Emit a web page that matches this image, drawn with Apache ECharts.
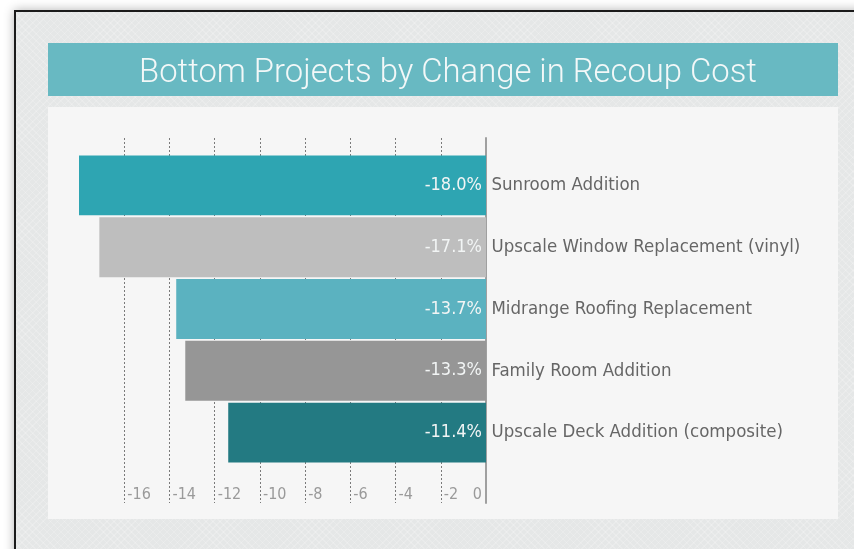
<!DOCTYPE html>
<html>
<head>
<meta charset="utf-8">
<script src="https://cdn.jsdelivr.net/npm/echarts@6/dist/echarts.min.js"></script>
<style>
  html, body { margin: 0; padding: 0; width: 854px; height: 549px; overflow: hidden; background: #ffffff; }
  #frame {
    position: absolute; left: 14px; top: 10px; width: 900px; height: 600px;
    border: 2px solid #1b1b1b; box-sizing: border-box;
    box-shadow: 0 0 10px rgba(0,0,0,0.3);
    background-color: #e5e7e7;
    background-image:
      repeating-linear-gradient(45deg, rgba(255,255,255,0.18) 0 1px, transparent 1px 5px),
      repeating-linear-gradient(-45deg, rgba(255,255,255,0.18) 0 1px, transparent 1px 5px);
  }
  #banner { position: absolute; left: 48px; top: 43px; width: 790px; height: 53px; background: #68b9c2; }
  #panel { position: absolute; left: 48px; top: 107px; width: 790px; height: 412px; background: #f6f6f6; }
  #chart { position: absolute; left: 0; top: 0; width: 854px; height: 549px; }
</style>
</head>
<body>
<div id="frame"></div>
<div id="banner"></div>
<div id="panel"></div>
<div id="chart"></div>
<script>
const titleText = 'Bottom Projects by Change in Recoup Cost';
const categories = [
  'Sunroom Addition',
  'Upscale Window Replacement (vinyl)',
  'Midrange Roofing Replacement',
  'Family Room Addition',
  'Upscale Deck Addition (composite)'
];
const values = [-18.0, -17.1, -13.7, -13.3, -11.4];
const barColors = ['#2ea5b2', '#bebebe', '#5bb2c0', '#969696', '#237a82'];
const tickLabels = ['-16', '-14', '-12', '-10', '-8', '-6', '-4', '-2', '0'];

const FONT = '"DejaVu Sans Condensed", "Liberation Sans Narrow", sans-serif';

const chart = echarts.init(document.getElementById('chart'), null, { renderer: 'canvas' });

const option = {
  backgroundColor: 'transparent',
  animation: false,
  title: {
    text: titleText,
    left: 443, top: 69,
    textAlign: 'center', textVerticalAlign: 'middle',
    textStyle: { color: '#f3f8f8', fontFamily: 'Roboto, "Liberation Sans", sans-serif', fontWeight: 300, fontSize: 32.8 }
  },
  grid: [
    { left: 79, right: 368, top: 154.5, bottom: 85.5, containLabel: false, outerBoundsMode: 'none' },
    { left: 124.3, right: 368, top: 138, bottom: 46, containLabel: false, outerBoundsMode: 'none' }
  ],
  xAxis: [
    { gridIndex: 0, type: 'value', min: -18, max: 0, interval: 2, show: false },
    {
      gridIndex: 1, type: 'value', min: -16, max: 0, interval: 2, position: 'bottom',
      axisLine: { show: false }, axisTick: { show: false },
      splitLine: { show: true, lineStyle: { color: '#7a7a7a', type: [2, 2], width: 1 } },
      axisLabel: {
        inside: true, margin: 0, align: 'left', padding: [0, 0, 0, 3],
        color: '#9a9a9a', fontFamily: FONT, fontSize: 16,
        formatter: function (v) { const s = String(v); return (s === '0') ? '' : (tickLabels.indexOf(s) >= 0 ? s : ''); }
      }
    },
    {
      gridIndex: 1, type: 'value', min: -16, max: 0, interval: 2, position: 'bottom',
      axisLine: { show: false }, axisTick: { show: false }, splitLine: { show: false },
      axisLabel: {
        inside: true, margin: 0, align: 'right', padding: [0, 4, 0, 0],
        color: '#9a9a9a', fontFamily: FONT, fontSize: 16,
        formatter: function (v) { return String(v) === '0' ? tickLabels[tickLabels.length - 1] : ''; }
      }
    }
  ],
  yAxis: [
    {
      gridIndex: 0, type: 'category', data: categories, inverse: true, position: 'right',
      axisLine: { show: false }, axisTick: { show: false }, splitLine: { show: false },
      axisLabel: { margin: 5.5, padding: [4, 0, 0, 0], color: '#666666', fontFamily: FONT, fontSize: 18.5 }
    },
    {
      gridIndex: 1, type: 'value', position: 'right', min: 0, max: 1,
      axisLine: { show: true, onZero: false, lineStyle: { color: '#a0a0a0', width: 2 } },
      axisTick: { show: false }, axisLabel: { show: false }, splitLine: { show: false }
    }
  ],
  series: [
    {
      type: 'bar', xAxisIndex: 0, yAxisIndex: 0, z: 3,
      barCategoryGap: '3%',
      data: values.map(function (v, i) { return { value: v, itemStyle: { color: barColors[i] } }; }),
      label: {
        show: true, position: 'insideRight', distance: 4, padding: [6, 0, 0, 0],
        color: '#f2f5f5', fontFamily: FONT, fontSize: 18,
        formatter: function (p) { return p.value.toFixed(1) + '%'; }
      }
    }
  ]
};
chart.setOption(option);
</script>
</body>
</html>
